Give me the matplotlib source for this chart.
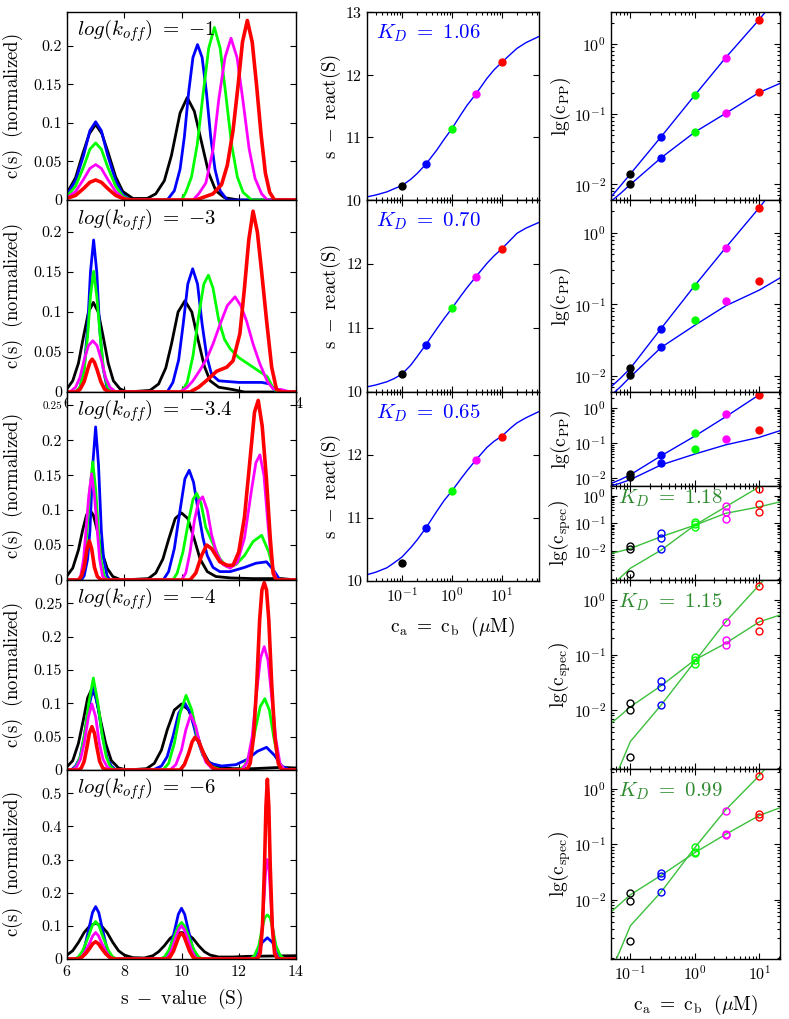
import matplotlib
matplotlib.use('Agg')
import matplotlib.pyplot as plt
import numpy as np
from matplotlib.ticker import FuncFormatter, LogLocator, NullFormatter, FixedLocator

plt.rcParams['font.family'] = 'cmr10'
plt.rcParams['mathtext.fontset'] = 'cm'
plt.rcParams['axes.formatter.use_mathtext'] = True
plt.rcParams['axes.unicode_minus'] = False

# ---------------- data ----------------
conc = [0.1, 0.3, 1, 3, 10]          # c_a = c_b (uM)
colors = ['k', 'b', '#00ff00', '#ff00ff', 'r']
koff_labels = ['-1', '-3', '-3.4', '-4', '-6']

# c(s) curves, one list of (s, c) knots per concentration (black, blue, green, magenta, red)
cs_koff1 = [
    [(6.0, .009), (6.3, .029), (6.55, .060), (6.78, .086), (7.0, .098), (7.22, .086), (7.45, .060), (7.7, .03),
     (7.95, .011), (8.3, .002), (8.8, .002), (9.1, .008), (9.4, .025), (9.65, .058), (9.95, .113), (10.2, .133),
     (10.45, .115), (10.7, .075), (10.95, .035), (11.2, .012), (11.5, .003), (12.0, 0), (14, 0)],
    [(6.0, .007), (6.3, .025), (6.58, .058), (6.8, .09), (7.0, .1015), (7.2, .09), (7.42, .058), (7.7, .025),
     (7.95, .007), (8.2, 0), (9.5, 0), (9.75, .012), (9.95, .04), (10.1, .082), (10.25, .14), (10.4, .185),
     (10.56, .2017), (10.72, .185), (10.87, .14), (11.02, .082), (11.17, .04), (11.35, .012), (11.6, 0), (14, 0)],
    [(6.0, .005), (6.3, .018), (6.58, .043), (6.8, .066), (7.0, .074), (7.2, .066), (7.42, .043), (7.7, .018),
     (7.95, .005), (8.2, 0), (10.0, 0), (10.15, .01), (10.35, .03), (10.55, .072), (10.75, .136), (10.95, .197),
     (11.15, .224), (11.35, .197), (11.55, .136), (11.75, .072), (11.95, .03), (12.15, .01), (12.45, 0), (14, 0)],
    [(6.0, .003), (6.3, .011), (6.58, .027), (6.8, .041), (7.0, .046), (7.2, .041), (7.42, .027), (7.7, .011),
     (7.95, .003), (8.2, 0), (10.4, 0), (10.6, .008), (10.85, .022), (11.1, .065), (11.3, .13), (11.52, .185),
     (11.73, .21), (11.94, .185), (12.15, .128), (12.36, .067), (12.57, .028), (12.8, .008), (13.0, 0), (14, 0)],
    [(6.0, .002), (6.3, .006), (6.58, .015), (6.8, .023), (7.0, .026), (7.2, .023), (7.42, .015), (7.7, .006),
     (7.95, .002), (8.2, 0), (10.5, 0), (10.8, .004), (11.1, .008), (11.4, .02), (11.6, .045), (11.8, .09),
     (11.98, .15), (12.13, .205), (12.3, .233), (12.47, .205), (12.62, .15), (12.78, .085), (12.93, .035),
     (13.08, .01), (13.25, 0), (14, 0)],
]

cs_koff3 = [
    [(6.0, .004), (6.2, .014), (6.4, .036), (6.58, .07), (6.75, .1), (6.92, .112), (7.09, .1), (7.26, .07),
     (7.44, .036), (7.62, .014), (7.85, .004), (8.1, 0), (8.9, .002), (9.2, .01), (9.45, .03), (9.65, .06),
     (9.88, .1), (10.12, .114), (10.36, .1), (10.58, .065), (10.8, .032), (11.0, .014), (11.3, .006),
     (11.8, .003), (12.2, 0), (14, 0)],
    [(6.0, 0), (6.3, 0), (6.45, .005), (6.6, .03), (6.72, .08), (6.82, .15), (6.93, .19), (7.04, .15), (7.14, .08),
     (7.26, .03), (7.4, .005), (7.6, 0), (9.5, 0), (9.7, .012), (9.9, .04), (10.06, .085), (10.22, .135),
     (10.39, .154), (10.56, .135), (10.72, .085), (10.88, .045), (11.05, .022), (11.3, .014), (12.0, .012),
     (12.8, .012), (13.1, .01), (13.3, 0), (14, 0)],
    [(6.0, 0), (6.3, 0), (6.45, .006), (6.6, .027), (6.72, .07), (6.82, .12), (6.93, .151), (7.04, .12), (7.16, .07),
     (7.28, .027), (7.42, .006), (7.6, 0), (10.0, 0), (10.2, .012), (10.4, .045), (10.6, .095), (10.78, .135),
     (10.94, .146), (11.1, .13), (11.3, .09), (11.5, .066), (11.7, .054), (12.0, .043), (12.5, .031),
     (13.0, .019), (13.2, .005), (13.35, 0), (14, 0)],
    [(6.0, 0), (6.1, 0), (6.3, .006), (6.45, .018), (6.6, .04), (6.75, .058), (6.9, .064), (7.05, .058), (7.2, .04),
     (7.35, .018), (7.5, .006), (7.7, 0), (9.95, 0), (10.2, .006), (10.4, .014), (10.64, .027), (10.9, .043),
     (11.1, .06), (11.35, .085), (11.6, .108), (11.87, .119), (12.07, .108), (12.27, .089), (12.5, .06),
     (12.74, .035), (13.0, .013), (13.2, .004), (13.5, .003), (13.8, 0), (14, 0)],
    [(6.0, 0), (6.3, 0), (6.45, .003), (6.6, .013), (6.72, .028), (6.8, .037), (6.88, .041), (6.96, .037), (7.05, .028),
     (7.18, .013), (7.32, .003), (7.5, 0), (10.3, 0), (10.6, .006), (10.88, .0145), (11.23, .026), (11.58, .031),
     (11.8, .039), (12.04, .073), (12.2, .13), (12.35, .19), (12.5, .226), (12.65, .2), (12.8, .15),
     (12.97, .09), (13.15, .031), (13.32, .003), (13.5, 0), (14, 0)],
]

cs_koff34 = [
    [(6.0, .006), (6.2, .017), (6.4, .043), (6.55, .072), (6.68, .093), (6.8, .1), (6.92, .093), (7.05, .072),
     (7.2, .043), (7.4, .017), (7.6, .005), (7.9, 0), (8.84, .002), (9.1, .01), (9.35, .03), (9.55, .058),
     (9.78, .088), (10.0, .096), (10.22, .088), (10.45, .058), (10.65, .03), (10.9, .012), (11.2, .005),
     (11.7, .003), (12.5, .002), (13.5, .002), (14, 0)],
    [(6.0, 0), (6.5, 0), (6.6, .006), (6.72, .03), (6.8, .07), (6.9, .165), (7.0, .219), (7.1, .165), (7.2, .07),
     (7.28, .03), (7.4, .006), (7.5, 0), (9.36, 0), (9.55, .012), (9.75, .045), (9.95, .1), (10.12, .145),
     (10.27, .157), (10.42, .14), (10.58, .1), (10.75, .06), (10.9, .035), (11.1, .018), (11.34, .012),
     (11.7, .012), (12.2, .018), (12.6, .024), (12.97, .026), (13.2, .015), (13.44, 0), (14, 0)],
    [(6.0, 0), (6.4, 0), (6.5, .006), (6.62, .03), (6.7, .07), (6.8, .13), (6.9, .169), (7.0, .13), (7.1, .07),
     (7.18, .03), (7.3, .006), (7.4, 0), (9.7, 0), (9.85, .01), (10.05, .04), (10.25, .085), (10.4, .115),
     (10.53, .124), (10.68, .11), (10.85, .075), (11.1, .052), (11.35, .03), (11.58, .019), (11.9, .022),
     (12.2, .035), (12.5, .055), (12.8, .064), (13.05, .04), (13.3, 0), (14, 0)],
    [(6.0, 0), (6.4, 0), (6.48, .006), (6.58, .03), (6.66, .07), (6.76, .12), (6.86, .152), (6.96, .12), (7.06, .07),
     (7.14, .03), (7.24, .006), (7.35, 0), (10.0, 0), (10.15, .01), (10.3, .04), (10.45, .085), (10.6, .113),
     (10.74, .119), (10.9, .1), (11.05, .065), (11.23, .038), (11.45, .022), (11.7, .017), (11.95, .025),
     (12.2, .06), (12.45, .13), (12.6, .168), (12.74, .179), (12.88, .15), (13.0, .09), (13.09, .048),
     (13.2, .015), (13.32, 0), (14, 0)],
    [(6.0, 0), (6.4, 0), (6.5, .005), (6.6, .018), (6.7, .045), (6.78, .056), (6.86, .045), (6.96, .018),
     (7.06, .005), (7.2, 0), (10.3, 0), (10.5, .01), (10.7, .035), (10.88, .05), (11.05, .045), (11.34, .026),
     (11.6, .021), (11.8, .021), (12.0, .04), (12.2, .09), (12.4, .175), (12.55, .24), (12.68, .257),
     (12.82, .22), (12.97, .143), (13.1, .06), (13.2, .01), (13.3, 0), (14, 0)],
]

cs_koff4 = [
    [(6.0, .005), (6.2, .014), (6.4, .04), (6.57, .075), (6.72, .108), (6.87, .122), (7.02, .108), (7.17, .075),
     (7.35, .04), (7.55, .014), (7.8, .003), (8.1, 0), (8.78, .002), (9.05, .01), (9.3, .03), (9.5, .06),
     (9.75, .09), (10.0, .099), (10.25, .09), (10.5, .06), (10.7, .032), (10.95, .012), (11.3, .004),
     (11.8, .002), (12.5, .002), (13.5, .004), (14, .003)],
    [(6.0, 0), (6.15, 0), (6.3, .006), (6.45, .018), (6.6, .05), (6.74, .09), (6.92, .125), (7.1, .09), (7.24, .05),
     (7.4, .018), (7.55, .006), (7.7, 0), (9.0, 0), (9.3, .006), (9.5, .02), (9.7, .05), (9.9, .085), (10.12, .1),
     (10.32, .085), (10.52, .05), (10.75, .022), (11.0, .01), (11.4, .006), (11.9, .008), (12.3, .016),
     (12.65, .028), (12.97, .034), (13.25, .022), (13.5, .006), (13.8, 0), (14, 0)],
    [(6.0, 0), (6.2, 0), (6.33, .006), (6.47, .02), (6.62, .055), (6.76, .1), (6.92, .138), (7.08, .1), (7.22, .055),
     (7.37, .02), (7.5, .006), (7.65, 0), (9.35, 0), (9.55, .01), (9.75, .04), (9.95, .085), (10.16, .112),
     (10.36, .09), (10.55, .05), (10.75, .022), (11.0, .006), (11.4, 0), (12.0, 0), (12.2, .006), (12.4, .025),
     (12.6, .065), (12.75, .095), (12.91, .107), (13.07, .09), (13.22, .05), (13.4, .012), (13.6, 0), (14, 0)],
    [(6.0, 0), (6.2, 0), (6.34, .005), (6.47, .016), (6.6, .04), (6.75, .08), (6.87, .099), (7.0, .08), (7.13, .04),
     (7.26, .016), (7.4, .005), (7.55, 0), (9.6, 0), (9.8, .008), (10.0, .03), (10.15, .06), (10.32, .083),
     (10.5, .065), (10.68, .032), (10.85, .012), (11.05, .003), (11.3, 0), (12.1, 0), (12.3, .012),
     (12.47, .05), (12.62, .115), (12.76, .168), (12.89, .185), (13.02, .165), (13.15, .11), (13.3, .045),
     (13.44, .01), (13.6, 0), (14, 0)],
    [(6.0, 0), (6.4, 0), (6.5, .003), (6.6, .013), (6.7, .035), (6.78, .055), (6.87, .065), (6.96, .055), (7.04, .035),
     (7.14, .013), (7.25, .003), (7.4, 0), (9.95, 0), (10.1, .008), (10.25, .025), (10.37, .042), (10.47, .049),
     (10.6, .043), (10.75, .027), (10.9, .012), (11.1, .003), (11.3, 0), (12.28, 0), (12.4, .01), (12.52, .05),
     (12.63, .13), (12.73, .225), (12.81, .27), (12.89, .281), (12.97, .27), (13.05, .225), (13.15, .13),
     (13.26, .05), (13.38, .01), (13.5, 0), (14, 0)],
]

cs_koff6 = [
    [(6.0, .012), (6.2, .025), (6.4, .05), (6.6, .08), (6.8, .1), (7.0, .108), (7.2, .1), (7.4, .08), (7.6, .05),
     (7.8, .025), (8.0, .012), (8.3, .004), (8.7, .003), (9.0, .01), (9.2, .022), (9.4, .04), (9.6, .062),
     (9.8, .076), (10.0, .08), (10.2, .076), (10.4, .062), (10.6, .04), (10.8, .022), (11.0, .012), (11.3, .006),
     (11.8, .006), (12.3, .008), (14.0, .01)],
    [(6.0, 0), (6.3, 0), (6.45, .007), (6.6, .03), (6.78, .097), (6.89, .14), (7.0, .158), (7.11, .14), (7.22, .097),
     (7.4, .03), (7.55, .007), (7.7, 0), (9.3, 0), (9.45, .007), (9.6, .03), (9.78, .094), (9.89, .135),
     (10.0, .153), (10.11, .135), (10.22, .094), (10.4, .03), (10.55, .007), (10.7, 0), (12.4, 0), (12.55, .007),
     (12.7, .025), (12.82, .05), (13.0, .064), (13.18, .05), (13.3, .025), (13.45, .007), (13.6, 0), (14, 0)],
    [(6.0, 0), (6.25, 0), (6.4, .006), (6.55, .025), (6.76, .07), (6.88, .1), (7.0, .113), (7.12, .1), (7.24, .07),
     (7.45, .025), (7.6, .006), (7.75, 0), (9.25, 0), (9.4, .006), (9.55, .025), (9.76, .07), (9.88, .098),
     (10.0, .11), (10.12, .098), (10.24, .07), (10.45, .025), (10.6, .006), (10.75, 0), (12.4, 0), (12.55, .01),
     (12.7, .04), (12.82, .095), (12.91, .125), (13.0, .133), (13.09, .125), (13.18, .095), (13.3, .04),
     (13.45, .01), (13.6, 0), (14, 0)],
    [(6.0, 0), (6.35, 0), (6.5, .005), (6.65, .024), (6.8, .05), (6.9, .07), (7.0, .08), (7.1, .07), (7.2, .05),
     (7.35, .024), (7.5, .005), (7.65, 0), (9.4, 0), (9.52, .005), (9.65, .026), (9.8, .065), (9.9, .088),
     (10.0, .1), (10.1, .088), (10.2, .065), (10.35, .026), (10.48, .005), (10.6, 0), (12.6, 0), (12.7, .012),
     (12.8, .07), (12.88, .18), (12.94, .265), (13.0, .3), (13.06, .265), (13.12, .18), (13.2, .07),
     (13.3, .012), (13.4, 0), (14, 0)],
    [(6.0, 0), (6.35, 0), (6.5, .004), (6.65, .016), (6.8, .033), (6.9, .046), (7.0, .052), (7.1, .046), (7.2, .033),
     (7.35, .016), (7.5, .004), (7.65, 0), (9.5, 0), (9.6, .006), (9.72, .024), (9.84, .052), (9.92, .07),
     (10.0, .077), (10.08, .07), (10.16, .052), (10.28, .024), (10.4, .006), (10.5, 0), (12.65, 0),
     (12.75, .018), (12.83, .1), (12.9, .28), (12.95, .46), (13.0, .542), (13.05, .46), (13.1, .28),
     (13.17, .1), (13.25, .018), (13.35, 0), (14, 0)],
]
cs_panels = [cs_koff1, cs_koff3, cs_koff34, cs_koff4, cs_koff6]
cs_ymax = [0.244, 0.24, 0.269, 0.285, 0.57]
cs_yticks = [[0, .05, .1, .15, .2], [0, .05, .1, .15, .2], [0, .05, .1, .15, .2, .25],
             [0, .05, .1, .15, .2, .25], [0, .1, .2, .3, .4, .5]]

# weight-average s of reaction boundary (middle column)
sw_fit_x = [0.02, 0.03, 0.05, 0.07, 0.1, 0.15, 0.2, 0.3, 0.5, 0.7, 1, 1.5, 2, 3, 5, 7, 10, 15, 20, 30, 55]
sw_fit = [
    [10.05, 10.08, 10.13, 10.18, 10.23, 10.33, 10.42, 10.57, 10.8, 10.97, 11.14, 11.36, 11.51, 11.69,
     11.94, 12.08, 12.2, 12.33, 12.42, 12.51, 12.61],
    [10.08, 10.11, 10.16, 10.21, 10.28, 10.42, 10.55, 10.74, 10.99, 11.15, 11.31, 11.5, 11.63, 11.8,
     12.01, 12.13, 12.24, 12.38, 12.48, 12.56, 12.65],
    [10.1, 10.14, 10.21, 10.29, 10.38, 10.53, 10.65, 10.84, 11.11, 11.28, 11.43, 11.62, 11.75, 11.92,
     12.12, 12.22, 12.3, 12.43, 12.51, 12.59, 12.69],
]
sw_dots = [
    [10.23, 10.57, 11.14, 11.69, 12.2],
    [10.28, 10.74, 11.31, 11.8, 12.24],
    [10.28, 10.84, 11.43, 11.92, 12.28],
]
sw_kd = ['1.06', '0.70', '0.65']

# lg(c_PP) panels (log10 values)
fit_x = [0.05, 0.07, 0.1, 0.3, 1, 3, 10, 21]
cpp_hi_pts = [[-1.85, -1.32, -0.727, -0.195, 0.35],
              [-1.88, -1.344, -0.749, -0.215, 0.342],
              [-1.89, -1.347, -0.7, -0.18, 0.37]]
cpp_lo_pts = [[-2.0, -1.62, -1.254, -0.988, -0.689],
              [-1.99, -1.593, -1.218, -0.951, -0.679],
              [-1.97, -1.575, -1.167, -0.882, -0.626]]
cpp_hi_fit = [[-2.18, -2.02, -1.85, -1.32, -0.727, -0.195, 0.35, 0.72],
              [-2.15, -2.03, -1.89, -1.335, -0.735, -0.21, 0.35, 0.72],
              [-2.15, -2.04, -1.9, -1.36, -0.8, -0.25, 0.38, 0.75]]
cpp_lo_fit = [[-2.24, -2.13, -2.0, -1.62, -1.254, -0.988, -0.689, -0.56],
              [-2.27, -2.15, -2.01, -1.6, -1.29, -1.02, -0.8, -0.63],
              [-2.22, -2.14, -2.04, -1.62, -1.31, -1.05, -0.835, -0.645]]

# lg(c_spec) panels (log10 values)
spec_steep_pts = [[-2.85, -1.93, -1.13, -0.377, 0.25],
                  [-2.85, -1.915, -1.04, -0.396, 0.257],
                  [-2.75, -1.86, -1.05, -0.396, 0.23]]
spec_flat_pts_a = [[-1.82, -1.35, -0.947, -0.58, -0.28],
                   [-1.866, -1.467, -1.1, -0.73, -0.378],
                   [-1.88, -1.517, -1.13, -0.81, -0.455]]
spec_flat_pts_b = [[-1.94, -1.52, -1.03, -0.86, -0.58],
                   [-2.0, -1.59, -1.17, -0.826, -0.56],
                   [-2.03, -1.57, -1.16, -0.84, -0.5]]
spec_steep_fit = [[-3.3, -2.98, -2.64, -1.98, -1.07, -0.40, 0.33, 0.75],
                  [-3.4, -3.0, -2.57, -1.91, -1.12, -0.40, 0.27, 0.7],
                  [-3.3, -2.9, -2.47, -1.86, -1.06, -0.38, 0.24, 0.68]]
spec_flat_fit = [[-2.1, -2.02, -1.92, -1.49, -1.07, -0.64, -0.40, -0.22],
                 [-2.24, -2.1, -1.94, -1.56, -1.09, -0.79, -0.40, -0.275],
                 [-2.22, -2.07, -1.91, -1.56, -1.15, -0.82, -0.48, -0.34]]
spec_kd = ['1.18', '1.15', '0.99']

# ---------------- layout ----------------
W, H = 789, 1019
fig = plt.figure(figsize=(W / 100, H / 100), dpi=100)


def box(x0, x1, y0, y1):
    return [x0 / W, 1 - y1 / H, (x1 - x0) / W, (y1 - y0) / H]


def style(ax, fs=11.5):
    ax.tick_params(which='both', direction='in', top=True, right=True, labelsize=fs, width=0.8)
    ax.tick_params(which='major', length=4)
    ax.tick_params(which='minor', length=2)
    for sp in ax.spines.values():
        sp.set_linewidth(1.0)


gfmt = FuncFormatter(lambda v, p: '%g' % v)
left_edges = [12, 200, 392, 580, 770, 959]
mid_edges = [12, 200, 392, 581]
right_edges = [12, 200, 392, 486, 580, 769, 959]
spec_line = '#3cc03c'
spec_text = '#2e8b2e'
xlab = r'$\mathrm{c_a}\ =\ \mathrm{c_b}\ \ (\mu\mathrm{M})$'

# left column: c(s) distributions
for i, curves in enumerate(cs_panels):
    ax = fig.add_axes(box(67, 296, left_edges[i], left_edges[i + 1]))
    for j, pts in enumerate(curves):
        s = [p[0] for p in pts]
        c = [p[1] for p in pts]
        ax.plot(s, c, color=colors[j], lw=2.6 if j == 4 else 2.0, solid_joinstyle='round')
    ax.set_xlim(6, 14)
    ax.set_ylim(0, cs_ymax[i])
    ax.set_xticks([6, 8, 10, 12, 14])
    ax.set_yticks(cs_yticks[i])
    ax.yaxis.set_major_formatter(gfmt)
    style(ax)
    if i == 1:
        # only the end labels peek out from under the next panel
        ax.set_xticklabels(['6', '', '', '', '14'])
    elif i != 4:
        ax.set_xticklabels([])
    if i == 2:
        ax.get_yticklabels()[-1].set_fontsize(8)
    ax.text(0.045, 0.97, r'$log(k_{off})\ =\ {%s}$' % koff_labels[i], transform=ax.transAxes,
            ha='left', va='top', fontsize=15)
    ax.set_ylabel(r'$\mathrm{c(s)}\ \ \mathrm{(normalized)}$', fontsize=13.5)
    ax.yaxis.set_label_coords(-0.185, 0.5)
    if i == 4:
        ax.set_xlabel(r'$\mathrm{s}\ -\ \mathrm{value}\ \ \mathrm{(S)}$', fontsize=14)
        ax.xaxis.set_label_coords(0.5, -0.15)

# middle column: s_w of the reaction boundary
for i in range(3):
    ax = fig.add_axes(box(367, 539, mid_edges[i], mid_edges[i + 1]))
    ax.set_xscale('log')
    ax.plot(sw_fit_x, sw_fit[i], color='b', lw=1.0)
    for j in range(5):
        ax.plot(conc[j], sw_dots[i][j], 'o', color=colors[j], ms=5, mec=colors[j])
    ax.set_xlim(0.02, 55)
    ax.set_ylim(10, 13)
    ax.set_yticks([10, 11, 12, 13])
    style(ax)
    if i > 0:
        ax.set_yticklabels(['10', '11', '12', ''])
    if i < 2:
        ax.set_xticklabels([])
        ax.xaxis.set_minor_formatter(NullFormatter())
    ax.text(0.05, 0.945, r'$K_D\ =\ %s$' % sw_kd[i], transform=ax.transAxes, color='b',
            ha='left', va='top', fontsize=15)
    ax.set_ylabel(r'$\mathrm{s}\ -\ \mathrm{react(S)}$', fontsize=13.5)
    ax.yaxis.set_label_coords(-0.14, 0.5)
    if i == 2:
        ax.set_xlabel(xlab, fontsize=14)
        ax.xaxis.set_label_coords(0.5, -0.18)

# right column: species concentrations
for i in range(6):
    ax = fig.add_axes(box(611, 780, right_edges[i], right_edges[i + 1]))
    ax.set_xscale('log')
    ax.set_yscale('log')
    if i < 3:
        ax.plot(fit_x, 10 ** np.array(cpp_hi_fit[i]), color='b', lw=1.0)
        ax.plot(fit_x, 10 ** np.array(cpp_lo_fit[i]), color='b', lw=1.0)
        for j in range(5):
            ax.plot([conc[j]] * 2, [10 ** cpp_hi_pts[i][j], 10 ** cpp_lo_pts[i][j]], 'o',
                    color=colors[j], ms=5, mec=colors[j])
        ax.set_ylim(0.006, 2.87)
        ax.set_ylabel(r'$\mathrm{lg(c_{PP})}$', fontsize=14)
    else:
        k = i - 3
        ax.plot(fit_x, 10 ** np.array(spec_steep_fit[k]), color=spec_line, lw=1.0)
        ax.plot(fit_x, 10 ** np.array(spec_flat_fit[k]), color=spec_line, lw=1.0)
        for j in range(5):
            yy = [10 ** spec_steep_pts[k][j], 10 ** spec_flat_pts_a[k][j], 10 ** spec_flat_pts_b[k][j]]
            ax.plot([conc[j]] * 3, yy, 'o', mfc='none', mec=colors[j], ms=5, mew=1.0)
        ax.set_ylim(10 ** -3.07, 10 ** 0.36)
        ax.set_ylabel(r'$\mathrm{lg(c_{spec})}$', fontsize=14)
        ax.text(0.04, 0.985 if k == 0 else 0.94, r'$K_D\ =\ %s$' % spec_kd[k], transform=ax.transAxes,
                color=spec_text, ha='left', va='top', fontsize=15)
    ax.set_xlim(0.05, 21)
    ax.yaxis.set_major_locator(FixedLocator([1e-2, 1e-1, 1]))
    ax.yaxis.set_minor_locator(LogLocator(subs=np.arange(2, 10), numticks=20))
    ax.yaxis.set_minor_formatter(NullFormatter())
    style(ax)
    ax.yaxis.set_label_coords(-0.225, 0.5)
    if i < 5:
        ax.set_xticklabels([])
        ax.xaxis.set_minor_formatter(NullFormatter())
    else:
        ax.set_xlabel(xlab, fontsize=14)
        ax.xaxis.set_label_coords(0.5, -0.18)

fig.savefig('out.png', dpi=100)
